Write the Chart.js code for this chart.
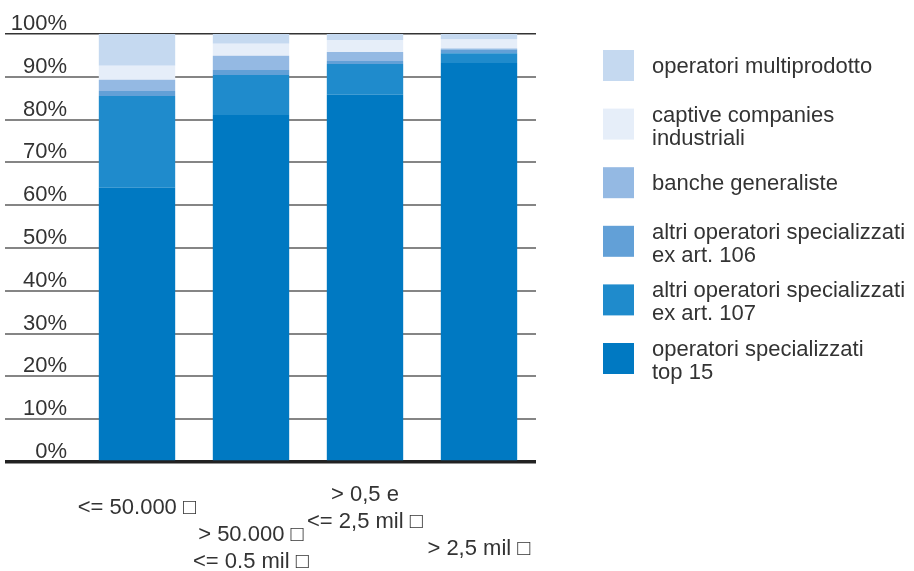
<!DOCTYPE html>
<html>
<head>
<meta charset="utf-8">
<script src="https://cdn.jsdelivr.net/npm/chart.js@4/dist/chart.umd.min.js"></script>
<style>
  html, body { margin: 0; padding: 0; background: #fff; }
</style>
</head>
<body>
<canvas id="myChart" width="914" height="571"></canvas>
<script>
// categories (blank lines push the even labels one row down, as in the original)
const categories = [
  ['<= 50.000 \u25A1'],
  ['', '', '', '> 50.000 \u25A1', '<= 0.5 mil \u25A1'],
  ['> 0,5 e', '<= 2,5 mil \u25A1'],
  ['', '', '', '> 2,5 mil \u25A1']
];

// series, bottom of the stack first
const seriesLabels = [
  ['operatori specializzati', 'top 15'],
  ['altri operatori specializzati', 'ex art. 107'],
  ['altri operatori specializzati', 'ex art. 106'],
  ['banche generaliste'],
  ['captive companies', 'industriali'],
  ['operatori multiprodotto']
];
const top15     = [64.1, 81.1, 85.8, 93.2];
const art107    = [21.4,  9.3,  7.2,  2.3];
const art106    = [ 1.2,  1.2,  0.7,  0.9];
const banche    = [ 2.6,  3.3,  2.1,  0.2];
const captive   = [ 3.3,  2.8,  2.8,  2.1];
const multiprod = [ 7.4,  2.3,  1.4,  1.3];
const seriesValues = [top15, art107, art106, banche, captive, multiprod];
const seriesColors = ['#0079c2', '#1f8bcc', '#62a0d7', '#94b9e3', '#e6eef9', '#c5d9f0'];

const yTicks = [0, 10, 20, 30, 40, 50, 60, 70, 80, 90, 100];

const FONT = "'Liberation Sans', Arial, sans-serif";
const TEXT = '#333';

// legend on the right, top item = top of the stack
const sideLegend = {
  id: 'sideLegend',
  afterDraw(chart) {
    const ctx = chart.ctx;
    const ds = chart.data.datasets.slice().reverse();
    ctx.save();
    ctx.font = '22px ' + FONT;
    ctx.textBaseline = 'middle';
    ctx.textAlign = 'left';
    ds.forEach((d, i) => {
      const top = 50 + i * 58.6;
      ctx.fillStyle = d.backgroundColor;
      ctx.fillRect(603, top, 31, 31);
      ctx.fillStyle = TEXT;
      const lines = d.legendLines;
      if (lines.length === 1) {
        ctx.fillText(lines[0], 652, top + 17);
      } else {
        lines.forEach((l, k) => ctx.fillText(l, 652, top + 7 + k * 23));
      }
    });
    ctx.restore();
  }
};

const data = {
  labels: categories,
  datasets: seriesValues.map((vals, i) => ({
    label: seriesLabels[i].join(' '),
    legendLines: seriesLabels[i],
    data: vals,
    backgroundColor: seriesColors[i],
    borderWidth: 0,
    barPercentage: 0.67,
    categoryPercentage: 1
  }))
};

const gridStyle = (c, zero, top, other) =>
  c.tick && c.tick.value === 0 ? zero : (c.tick && c.tick.value === 100 ? top : other);

const config = {
  type: 'bar',
  data,
  options: {
    responsive: false,
    animation: false,
    devicePixelRatio: 1,
    layout: { padding: { left: 5, right: 378, top: 34, bottom: 0 } },
    plugins: {
      legend: { display: false },
      tooltip: { enabled: false }
    },
    scales: {
      x: {
        stacked: true,
        grid: { display: false, drawTicks: false },
        border: { display: false },
        ticks: {
          autoSkip: false,
          maxRotation: 0,
          crossAlign: 'center',
          padding: -8,
          color: TEXT,
          font: { family: FONT, size: 22, lineHeight: 27 / 22 }
        },
        afterFit(scale) { scale.height = 109; }
      },
      y: {
        stacked: true,
        min: 0,
        max: 100,
        afterBuildTicks(scale) { scale.ticks = yTicks.map(v => ({ value: v })); },
        border: { display: false },
        grid: {
          drawTicks: true,
          tickLength: 75,
          color: c => gridStyle(c, '#222', '#333', '#858585'),
          tickColor: c => gridStyle(c, '#222', '#333', '#858585'),
          lineWidth: c => gridStyle(c, 3.5, 1.5, 2),
          tickWidth: c => gridStyle(c, 3.5, 1.5, 2)
        },
        ticks: {
          padding: -62,
          labelOffset: -10,
          color: TEXT,
          font: { family: FONT, size: 22 },
          callback: v => v + '%'
        },
        afterFit(scale) { scale.width = 75; }
      }
    }
  },
  plugins: [sideLegend]
};

const myChart = new Chart(document.getElementById('myChart'), config);
</script>
</body>
</html>
